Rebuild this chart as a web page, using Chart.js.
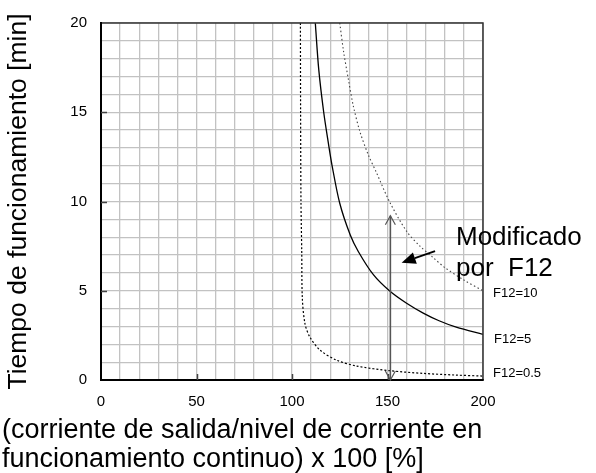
<!DOCTYPE html>
<html>
<head>
<meta charset="utf-8">
<script src="https://cdn.jsdelivr.net/npm/chart.js@4/dist/chart.umd.min.js"></script>
<style>
  html, body { margin: 0; padding: 0; background: #fff; }
  #wrap { width: 596px; height: 473px; position: relative; }
</style>
</head>
<body>
<div id="wrap"><canvas id="tripChart"></canvas></div>
<script>
// Overload trip curves: operating time vs. output current ratio, for three F12 settings

const currentF10 = [125, 127, 129.5, 132, 135.6, 140, 144.3, 151, 160, 167, 174, 180, 190, 200];
const timeF10 = [20, 18.4, 16.85, 15.4, 13.9, 12.6, 11.6, 10, 8.33, 7.5, 6.85, 6.3, 5.6, 5.0];

const currentF5 = [112.2, 114, 116.6, 119, 121, 125, 130.4, 134.7, 142.6, 151, 160, 168.7, 177, 186, 200];
const timeF5 = [20, 17.4, 15, 13.3, 12, 9.9, 8.15, 7.2, 5.9, 5.0, 4.3, 3.75, 3.32, 2.96, 2.56];

const currentF05 = [104.4, 104.5, 104.7, 105.1, 105.4, 106.8, 109.4, 114.7, 123.4, 133.9, 151.3, 168.7, 185, 200];
const timeF05 = [20, 15, 10, 7.2, 4.6, 3.15, 2.4, 1.67, 1.11, 0.78, 0.52, 0.37, 0.28, 0.22];

const curveLabels = ['F12=10', 'F12=5', 'F12=0.5'];
const xMajorTicks = [0, 50, 100, 150, 200];
const yMajorTicks = [0, 5, 10, 15, 20];

const yTitle = 'Tiempo de funcionamiento [min]';
const xTitle = ['(corriente de salida/nivel de corriente en', 'funcionamiento continuo) x 100 [%]'];
const noteLines = ['Modificado', 'por  F12'];

// double arrow showing the F12 adjustment range, and the pointer from the note
const rangeArrowX = 151.5;
const rangeArrowY = [0, 9.2];
const pointerFrom = [174.9, 7.22];
const pointerTo = [157.4, 6.57];

const FONT = 'Liberation Sans, Arial, sans-serif';

function toPoints(xs, ys) {
    return xs.map((x, i) => ({ x: x, y: ys[i] }));
}

function openHead(ctx, tx, ty, dir) {
    // dir = +1 points up, -1 points down
    ctx.beginPath();
    ctx.moveTo(tx - 5, ty + dir * 9);
    ctx.lineTo(tx, ty);
    ctx.lineTo(tx + 5, ty + dir * 9);
    ctx.stroke();
}

const overlay = {
    id: 'overlay',
    afterDatasetsDraw(chart) {
        const { ctx, chartArea: a, scales: { x, y } } = chart;
        ctx.save();

        // frame
        ctx.strokeStyle = '#333';
        ctx.lineWidth = 1.5;
        ctx.beginPath();
        ctx.moveTo(a.left, a.top);
        ctx.lineTo(a.right, a.top);
        ctx.lineTo(a.right, a.bottom);
        ctx.stroke();
        ctx.strokeStyle = '#000';
        ctx.lineWidth = 2;
        ctx.beginPath();
        ctx.moveTo(a.left, a.top - 1);
        ctx.lineTo(a.left, a.bottom);
        ctx.lineTo(a.right + 0.75, a.bottom);
        ctx.stroke();

        // short inward marks at labelled ticks
        ctx.strokeStyle = '#444';
        ctx.lineWidth = 1.5;
        yMajorTicks.slice(1, -1).forEach(v => {
            const py = Math.round(y.getPixelForValue(v)) + 0.5;
            ctx.beginPath();
            ctx.moveTo(a.left, py);
            ctx.lineTo(a.left + 6, py);
            ctx.stroke();
        });
        xMajorTicks.slice(1, -1).forEach(v => {
            const px = Math.round(x.getPixelForValue(v)) + 0.5;
            ctx.beginPath();
            ctx.moveTo(px, a.bottom);
            ctx.lineTo(px, a.bottom - 6);
            ctx.stroke();
        });

        // vertical double arrow
        const ax = x.getPixelForValue(rangeArrowX);
        const ay0 = y.getPixelForValue(rangeArrowY[0]);
        const ay1 = y.getPixelForValue(rangeArrowY[1]);
        ctx.strokeStyle = '#555';
        ctx.lineWidth = 1.6;
        ctx.beginPath();
        ctx.moveTo(ax, ay0);
        ctx.lineTo(ax, ay1);
        ctx.stroke();
        ctx.lineWidth = 1.2;
        openHead(ctx, ax, ay1, 1);
        openHead(ctx, ax, ay0, -1);

        // pointer arrow with filled head
        const fx = x.getPixelForValue(pointerFrom[0]);
        const fy = y.getPixelForValue(pointerFrom[1]);
        const tx = x.getPixelForValue(pointerTo[0]);
        const ty = y.getPixelForValue(pointerTo[1]);
        const ang = Math.atan2(ty - fy, tx - fx);
        const headLen = 14, headHalf = 6;
        const bx = tx - headLen * Math.cos(ang);
        const by = ty - headLen * Math.sin(ang);
        ctx.strokeStyle = '#000';
        ctx.fillStyle = '#000';
        ctx.lineWidth = 2;
        ctx.beginPath();
        ctx.moveTo(fx, fy);
        ctx.lineTo(bx, by);
        ctx.stroke();
        ctx.beginPath();
        ctx.moveTo(tx, ty);
        ctx.lineTo(bx + headHalf * Math.sin(ang), by - headHalf * Math.cos(ang));
        ctx.lineTo(bx - headHalf * Math.sin(ang), by + headHalf * Math.cos(ang));
        ctx.closePath();
        ctx.fill();

        // note text
        ctx.fillStyle = '#000';
        ctx.textAlign = 'left';
        ctx.textBaseline = 'alphabetic';
        ctx.font = '26px ' + FONT;
        ctx.fillText(noteLines[0], 456, 245);
        ctx.fillText(noteLines[1], 456, 276);

        // curve labels at the right end of each curve
        ctx.font = '13px ' + FONT;
        ctx.fillText(curveLabels[0], 493, 297);
        ctx.fillText(curveLabels[1], 494, 343);
        ctx.fillText(curveLabels[2], 493, 377);

        // two-line x axis title, left aligned
        ctx.font = '27px ' + FONT;
        ctx.fillText(xTitle[0], 2, 438);
        ctx.fillText(xTitle[1], 2, 467);

        ctx.restore();
    }
};

new Chart(document.getElementById('tripChart'), {
    type: 'scatter',
    data: {
        datasets: [
            {
                label: curveLabels[0],
                data: toPoints(currentF10, timeF10),
                showLine: true,
                borderColor: '#444',
                borderWidth: 1.1,
                borderDash: [1.5, 2.5],
                pointRadius: 0,
                tension: 0.3
            },
            {
                label: curveLabels[1],
                data: toPoints(currentF5, timeF5),
                showLine: true,
                borderColor: '#000',
                borderWidth: 1.3,
                pointRadius: 0,
                tension: 0.3
            },
            {
                label: curveLabels[2],
                data: toPoints(currentF05, timeF05),
                showLine: true,
                borderColor: '#000',
                borderWidth: 1.2,
                borderDash: [2, 2],
                pointRadius: 0,
                tension: 0.3
            }
        ]
    },
    options: {
        responsive: true,
        maintainAspectRatio: false,
        animation: false,
        layout: { padding: { top: 20, right: 113, left: 0, bottom: 0 } },
        plugins: {
            legend: { display: false },
            tooltip: { enabled: false }
        },
        scales: {
            x: {
                type: 'linear',
                min: 0,
                max: 200,
                afterFit: scale => { scale.height = 93; },
                border: { display: false },
                grid: { color: '#c2c2c2', lineWidth: 1.3, drawTicks: false },
                ticks: {
                    stepSize: 10,
                    autoSkip: false,
                    maxRotation: 0,
                    padding: 13,
                    color: '#000',
                    font: { family: FONT, size: 15 },
                    callback: v => (xMajorTicks.includes(v) ? String(v) : '')
                }
            },
            y: {
                type: 'linear',
                min: 0,
                max: 20,
                afterFit: scale => { scale.width = 101; },
                border: { display: false },
                grid: { color: '#c2c2c2', lineWidth: 1.3, drawTicks: false },
                ticks: {
                    stepSize: 1,
                    autoSkip: false,
                    padding: 14,
                    color: '#000',
                    font: { family: FONT, size: 15 },
                    callback: v => (yMajorTicks.includes(v) ? String(v) : '')
                },
                title: {
                    display: true,
                    text: yTitle,
                    color: '#000',
                    font: { family: FONT, size: 26.5 },
                    padding: { top: 3, bottom: 0 }
                }
            }
        }
    },
    plugins: [overlay]
});
</script>
</body>
</html>
